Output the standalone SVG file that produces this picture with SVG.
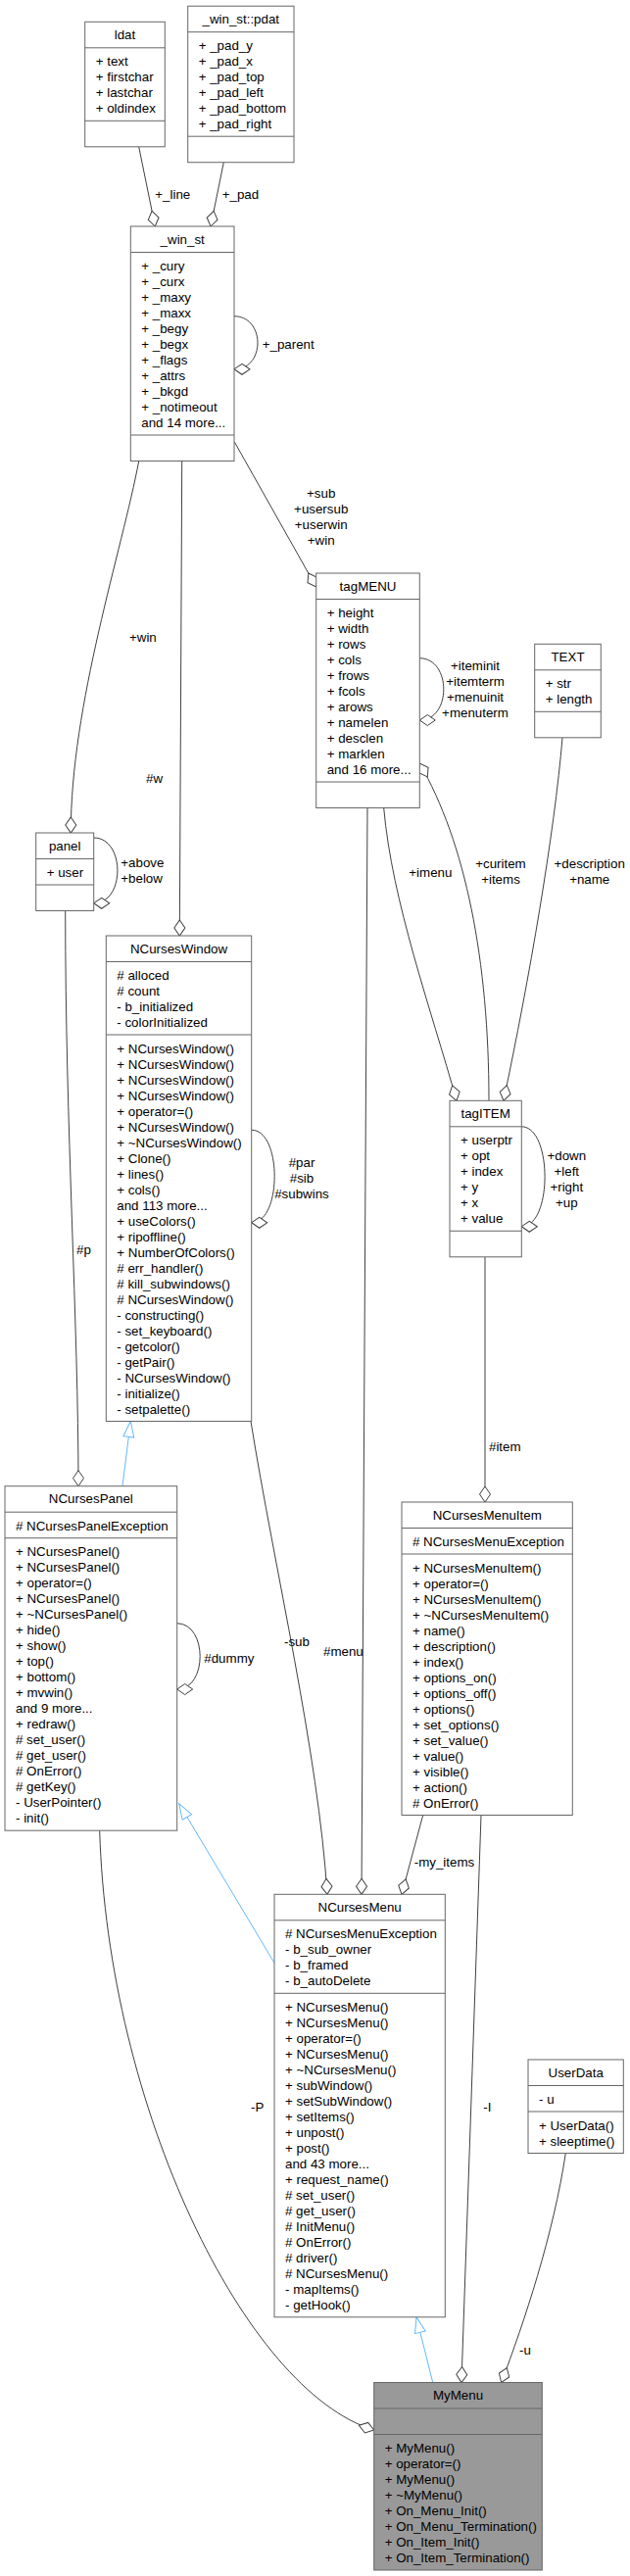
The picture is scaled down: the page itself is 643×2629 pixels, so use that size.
<svg xmlns="http://www.w3.org/2000/svg" width="643" height="2629" viewBox="0 0 643 2629">
<style>
text{font-family:"Liberation Sans",Arial,sans-serif;font-size:13.33px;fill:#000}
.t{text-anchor:middle}
.box{fill:#fff;stroke:#666;stroke-width:1}
.sep{stroke:#666;stroke-width:1}
.hl{fill:#999;stroke:#666;stroke-width:1}
.e{fill:none;stroke:#404040;stroke-width:1}
.i{fill:none;stroke:#63b8ff;stroke-width:1}
.lm{text-anchor:middle}
</style>
<defs>
<marker id="dia" markerUnits="userSpaceOnUse" markerWidth="18" markerHeight="13" refX="17" refY="6.5" orient="auto" overflow="visible"><path d="M1,6.5 L9,1 L17,6.5 L9,12 Z" fill="#fff" stroke="#404040"/></marker>
<marker id="tri" markerUnits="userSpaceOnUse" markerWidth="18" markerHeight="13" refX="17" refY="6.5" orient="auto" overflow="visible"><path d="M1,1 L17,6.5 L1,12 Z" fill="#fff" stroke="#63b8ff"/></marker>
</defs>
<rect width="643" height="2629" fill="#fff"/>

<g id="connectors">
<path class="e" marker-end="url(#dia)" d="M141.7,149.8 L158.3,231"/>
<path class="e" marker-end="url(#dia)" d="M228.3,165.7 L215,231"/>
<path class="e" marker-end="url(#dia)" d="M239.3,451 L322.7,599"/>
<path class="e" marker-end="url(#dia)" d="M141.7,470.5 C125,560 72,720 72.3,850"/>
<path class="e" marker-end="url(#dia)" d="M185.7,470.5 L183.3,955"/>
<path class="e" marker-end="url(#dia)" d="M239,322.7 C271,323 271,377 239,376.7"/>
<path class="e" marker-end="url(#dia)" d="M428.3,671.7 C461,672 461,735 428.3,735"/>
<path class="e" marker-end="url(#dia)" d="M574,752.8 C566,850 540,1000 514,1123.3"/>
<path class="e" marker-end="url(#dia)" d="M391.7,824.5 C400,920 440,1030 466,1123.3"/>
<path class="e" marker-end="url(#dia)" d="M499,1123.3 C499,980 475,860 428.3,779"/>
<path class="e" marker-end="url(#dia)" d="M532.3,1149.8 C564,1150 564,1252 532.3,1251.7"/>
<path class="e" marker-end="url(#dia)" d="M95.7,855 C128,855 128,922 95.7,921.7"/>
<path class="e" marker-end="url(#dia)" d="M66.7,929.5 C66.7,1150 80,1350 80,1516.7"/>
<path class="e" marker-end="url(#dia)" d="M256.7,1153.3 C288,1153 288,1248 256.7,1247.7"/>
<path class="i" marker-end="url(#tri)" d="M125,1516.7 L133.3,1450.5"/>
<path class="e" marker-end="url(#dia)" d="M180.7,1656.7 C212,1657 212,1724 180.7,1724"/>
<path class="e" marker-end="url(#dia)" d="M375,824.5 L369,1933.3"/>
<path class="e" marker-end="url(#dia)" d="M495,1282.8 L495,1533"/>
<path class="e" marker-end="url(#dia)" d="M256,1450.5 C280,1600 325,1790 334,1933.3"/>
<path class="i" marker-end="url(#tri)" d="M280,2003.3 L182.7,1840.7"/>
<path class="e" marker-end="url(#dia)" d="M431.7,1852.5 L410,1933.3"/>
<path class="e" marker-end="url(#dia)" d="M101.7,1868.2 C110,2150 250,2440 381.7,2480"/>
<path class="e" marker-end="url(#dia)" d="M491,1852.5 L471,2431.5"/>
<path class="e" marker-end="url(#dia)" d="M577.3,2197.5 C565,2280 535,2370 511.7,2431.5"/>
<path class="i" marker-end="url(#tri)" d="M441.7,2431.5 L425,2364.8"/>
<text x="158.3" y="203.3">+_line</text>
<text x="226.7" y="203.3">+_pad</text>
<text x="267.7" y="356">+_parent</text>
<text class="lm" x="327.7" y="508.3">+sub</text>
<text class="lm" x="327.7" y="524.3">+usersub</text>
<text class="lm" x="327.7" y="540.3">+userwin</text>
<text class="lm" x="327.7" y="556.3">+win</text>
<text class="lm" x="485" y="684.3">+iteminit</text>
<text class="lm" x="485" y="700.3">+itemterm</text>
<text class="lm" x="485" y="716.3">+menuinit</text>
<text class="lm" x="485" y="732.3">+menuterm</text>
<text x="132" y="655">+win</text>
<text x="149" y="799">#w</text>
<text x="123.3" y="885">+above</text>
<text x="123.3" y="901">+below</text>
<text class="lm" x="308" y="1190.7">#par</text>
<text class="lm" x="308" y="1206.7">#sib</text>
<text class="lm" x="308" y="1222.7">#subwins</text>
<text x="417.3" y="894.7">+imenu</text>
<text class="lm" x="511" y="886">+curitem</text>
<text class="lm" x="511" y="902">+items</text>
<text class="lm" x="601.7" y="886">+description</text>
<text class="lm" x="601.7" y="902">+name</text>
<text class="lm" x="578.3" y="1184">+down</text>
<text class="lm" x="578.3" y="1200">+left</text>
<text class="lm" x="578.3" y="1216">+right</text>
<text class="lm" x="578.3" y="1232">+up</text>
<text x="78" y="1280">#p</text>
<text x="208.3" y="1696.7">#dummy</text>
<text x="330" y="1690">#menu</text>
<text x="499" y="1481">#item</text>
<text x="290" y="1680">-sub</text>
<text x="422.7" y="1905">-my_items</text>
<text x="256" y="2155">-P</text>
<text x="493.3" y="2155">-I</text>
<text x="530" y="2402.7">-u</text>
</g>

<g id="ldat">
<rect class="box" x="86.7" y="22.3" width="81.6" height="127.5"/>
<line class="sep" x1="86.7" y1="48.8" x2="168.3" y2="48.8"/>
<line class="sep" x1="86.7" y1="123.3" x2="168.3" y2="123.3"/>
<text class="t" x="127.5" y="39.8">ldat</text>
<text x="97.7" y="67.3">+ text</text>
<text x="97.7" y="83.3">+ firstchar</text>
<text x="97.7" y="99.3">+ lastchar</text>
<text x="97.7" y="115.3">+ oldindex</text>
</g>

<g id="pdat">
<rect class="box" x="191.7" y="6.2" width="108.3" height="159.5"/>
<line class="sep" x1="191.7" y1="32.7" x2="300" y2="32.7"/>
<line class="sep" x1="191.7" y1="139.2" x2="300" y2="139.2"/>
<text class="t" x="245.8" y="23.7">_win_st::pdat</text>
<text x="202.7" y="51.2">+ _pad_y</text>
<text x="202.7" y="67.2">+ _pad_x</text>
<text x="202.7" y="83.2">+ _pad_top</text>
<text x="202.7" y="99.2">+ _pad_left</text>
<text x="202.7" y="115.2">+ _pad_bottom</text>
<text x="202.7" y="131.2">+ _pad_right</text>
</g>

<g id="win_st">
<rect class="box" x="133.3" y="231" width="105.7" height="239.5"/>
<line class="sep" x1="133.3" y1="257.5" x2="239" y2="257.5"/>
<line class="sep" x1="133.3" y1="444" x2="239" y2="444"/>
<text class="t" x="186.2" y="248.5">_win_st</text>
<text x="144.3" y="276">+ _cury</text>
<text x="144.3" y="292">+ _curx</text>
<text x="144.3" y="308">+ _maxy</text>
<text x="144.3" y="324">+ _maxx</text>
<text x="144.3" y="340">+ _begy</text>
<text x="144.3" y="356">+ _begx</text>
<text x="144.3" y="372">+ _flags</text>
<text x="144.3" y="388">+ _attrs</text>
<text x="144.3" y="404">+ _bkgd</text>
<text x="144.3" y="420">+ _notimeout</text>
<text x="144.3" y="436">and 14 more...</text>
</g>

<g id="tagMENU">
<rect class="box" x="322.7" y="585" width="105.6" height="239.5"/>
<line class="sep" x1="322.7" y1="611.5" x2="428.3" y2="611.5"/>
<line class="sep" x1="322.7" y1="798" x2="428.3" y2="798"/>
<text class="t" x="375.5" y="602.5">tagMENU</text>
<text x="333.7" y="630">+ height</text>
<text x="333.7" y="646">+ width</text>
<text x="333.7" y="662">+ rows</text>
<text x="333.7" y="678">+ cols</text>
<text x="333.7" y="694">+ frows</text>
<text x="333.7" y="710">+ fcols</text>
<text x="333.7" y="726">+ arows</text>
<text x="333.7" y="742">+ namelen</text>
<text x="333.7" y="758">+ desclen</text>
<text x="333.7" y="774">+ marklen</text>
<text x="333.7" y="790">and 16 more...</text>
</g>

<g id="TEXT">
<rect class="box" x="545.7" y="657.3" width="67.6" height="95.5"/>
<line class="sep" x1="545.7" y1="683.8" x2="613.3" y2="683.8"/>
<line class="sep" x1="545.7" y1="726.3" x2="613.3" y2="726.3"/>
<text class="t" x="579.5" y="674.8">TEXT</text>
<text x="556.7" y="702.3">+ str</text>
<text x="556.7" y="718.3">+ length</text>
</g>

<g id="panel">
<rect class="box" x="36.7" y="850" width="59" height="79.5"/>
<line class="sep" x1="36.7" y1="876.5" x2="95.7" y2="876.5"/>
<line class="sep" x1="36.7" y1="903" x2="95.7" y2="903"/>
<text class="t" x="66.2" y="867.5">panel</text>
<text x="47.7" y="895">+ user</text>
</g>

<g id="NCursesWindow">
<rect class="box" x="108.3" y="955" width="148.4" height="495.5"/>
<line class="sep" x1="108.3" y1="981.5" x2="256.7" y2="981.5"/>
<line class="sep" x1="108.3" y1="1056" x2="256.7" y2="1056"/>
<text class="t" x="182.5" y="972.5">NCursesWindow</text>
<text x="119.3" y="1000"># alloced</text>
<text x="119.3" y="1016"># count</text>
<text x="119.3" y="1032">- b_initialized</text>
<text x="119.3" y="1048">- colorInitialized</text>
<text x="119.3" y="1074.5">+ NCursesWindow()</text>
<text x="119.3" y="1090.5">+ NCursesWindow()</text>
<text x="119.3" y="1106.5">+ NCursesWindow()</text>
<text x="119.3" y="1122.5">+ NCursesWindow()</text>
<text x="119.3" y="1138.5">+ operator=()</text>
<text x="119.3" y="1154.5">+ NCursesWindow()</text>
<text x="119.3" y="1170.5">+ ~NCursesWindow()</text>
<text x="119.3" y="1186.5">+ Clone()</text>
<text x="119.3" y="1202.5">+ lines()</text>
<text x="119.3" y="1218.5">+ cols()</text>
<text x="119.3" y="1234.5">and 113 more...</text>
<text x="119.3" y="1250.5">+ useColors()</text>
<text x="119.3" y="1266.5">+ ripoffline()</text>
<text x="119.3" y="1282.5">+ NumberOfColors()</text>
<text x="119.3" y="1298.5"># err_handler()</text>
<text x="119.3" y="1314.5"># kill_subwindows()</text>
<text x="119.3" y="1330.5"># NCursesWindow()</text>
<text x="119.3" y="1346.5">- constructing()</text>
<text x="119.3" y="1362.5">- set_keyboard()</text>
<text x="119.3" y="1378.5">- getcolor()</text>
<text x="119.3" y="1394.5">- getPair()</text>
<text x="119.3" y="1410.5">- NCursesWindow()</text>
<text x="119.3" y="1426.5">- initialize()</text>
<text x="119.3" y="1442.5">- setpalette()</text>
</g>

<g id="tagITEM">
<rect class="box" x="459" y="1123.3" width="73.3" height="159.5"/>
<line class="sep" x1="459" y1="1149.8" x2="532.3" y2="1149.8"/>
<line class="sep" x1="459" y1="1256.3" x2="532.3" y2="1256.3"/>
<text class="t" x="495.7" y="1140.8">tagITEM</text>
<text x="470" y="1168.3">+ userptr</text>
<text x="470" y="1184.3">+ opt</text>
<text x="470" y="1200.3">+ index</text>
<text x="470" y="1216.3">+ y</text>
<text x="470" y="1232.3">+ x</text>
<text x="470" y="1248.3">+ value</text>
</g>

<g id="NCursesPanel">
<rect class="box" x="5" y="1516.7" width="175.7" height="351.5"/>
<line class="sep" x1="5" y1="1543.2" x2="180.7" y2="1543.2"/>
<line class="sep" x1="5" y1="1569.7" x2="180.7" y2="1569.7"/>
<text class="t" x="92.8" y="1534.2">NCursesPanel</text>
<text x="16" y="1561.7"># NCursesPanelException</text>
<text x="16" y="1588.2">+ NCursesPanel()</text>
<text x="16" y="1604.2">+ NCursesPanel()</text>
<text x="16" y="1620.2">+ operator=()</text>
<text x="16" y="1636.2">+ NCursesPanel()</text>
<text x="16" y="1652.2">+ ~NCursesPanel()</text>
<text x="16" y="1668.2">+ hide()</text>
<text x="16" y="1684.2">+ show()</text>
<text x="16" y="1700.2">+ top()</text>
<text x="16" y="1716.2">+ bottom()</text>
<text x="16" y="1732.2">+ mvwin()</text>
<text x="16" y="1748.2">and 9 more...</text>
<text x="16" y="1764.2">+ redraw()</text>
<text x="16" y="1780.2"># set_user()</text>
<text x="16" y="1796.2"># get_user()</text>
<text x="16" y="1812.2"># OnError()</text>
<text x="16" y="1828.2"># getKey()</text>
<text x="16" y="1844.2">- UserPointer()</text>
<text x="16" y="1860.2">- init()</text>
</g>

<g id="NCursesMenuItem">
<rect class="box" x="410" y="1533" width="174.3" height="319.5"/>
<line class="sep" x1="410" y1="1559.5" x2="584.3" y2="1559.5"/>
<line class="sep" x1="410" y1="1586" x2="584.3" y2="1586"/>
<text class="t" x="497.2" y="1550.5">NCursesMenuItem</text>
<text x="421" y="1578"># NCursesMenuException</text>
<text x="421" y="1604.5">+ NCursesMenuItem()</text>
<text x="421" y="1620.5">+ operator=()</text>
<text x="421" y="1636.5">+ NCursesMenuItem()</text>
<text x="421" y="1652.5">+ ~NCursesMenuItem()</text>
<text x="421" y="1668.5">+ name()</text>
<text x="421" y="1684.5">+ description()</text>
<text x="421" y="1700.5">+ index()</text>
<text x="421" y="1716.5">+ options_on()</text>
<text x="421" y="1732.5">+ options_off()</text>
<text x="421" y="1748.5">+ options()</text>
<text x="421" y="1764.5">+ set_options()</text>
<text x="421" y="1780.5">+ set_value()</text>
<text x="421" y="1796.5">+ value()</text>
<text x="421" y="1812.5">+ visible()</text>
<text x="421" y="1828.5">+ action()</text>
<text x="421" y="1844.5"># OnError()</text>
</g>

<g id="NCursesMenu">
<rect class="box" x="280" y="1933.3" width="174.3" height="431.5"/>
<line class="sep" x1="280" y1="1959.8" x2="454.3" y2="1959.8"/>
<line class="sep" x1="280" y1="2034.3" x2="454.3" y2="2034.3"/>
<text class="t" x="367.2" y="1950.8">NCursesMenu</text>
<text x="291" y="1978.3"># NCursesMenuException</text>
<text x="291" y="1994.3">- b_sub_owner</text>
<text x="291" y="2010.3">- b_framed</text>
<text x="291" y="2026.3">- b_autoDelete</text>
<text x="291" y="2052.8">+ NCursesMenu()</text>
<text x="291" y="2068.8">+ NCursesMenu()</text>
<text x="291" y="2084.8">+ operator=()</text>
<text x="291" y="2100.8">+ NCursesMenu()</text>
<text x="291" y="2116.8">+ ~NCursesMenu()</text>
<text x="291" y="2132.8">+ subWindow()</text>
<text x="291" y="2148.8">+ setSubWindow()</text>
<text x="291" y="2164.8">+ setItems()</text>
<text x="291" y="2180.8">+ unpost()</text>
<text x="291" y="2196.8">+ post()</text>
<text x="291" y="2212.8">and 43 more...</text>
<text x="291" y="2228.8">+ request_name()</text>
<text x="291" y="2244.8"># set_user()</text>
<text x="291" y="2260.8"># get_user()</text>
<text x="291" y="2276.8"># InitMenu()</text>
<text x="291" y="2292.8"># OnError()</text>
<text x="291" y="2308.8"># driver()</text>
<text x="291" y="2324.8"># NCursesMenu()</text>
<text x="291" y="2340.8">- mapItems()</text>
<text x="291" y="2356.8">- getHook()</text>
</g>

<g id="UserData">
<rect class="box" x="539" y="2102" width="97.3" height="95.5"/>
<line class="sep" x1="539" y1="2128.5" x2="636.3" y2="2128.5"/>
<line class="sep" x1="539" y1="2155" x2="636.3" y2="2155"/>
<text class="t" x="587.7" y="2119.5">UserData</text>
<text x="550" y="2147">- u</text>
<text x="550" y="2173.5">+ UserData()</text>
<text x="550" y="2189.5">+ sleeptime()</text>
</g>

<g id="MyMenu">
<rect class="hl" x="381.7" y="2431.5" width="171.6" height="191.5"/>
<line class="sep" x1="381.7" y1="2458" x2="553.3" y2="2458"/>
<line class="sep" x1="381.7" y1="2484.5" x2="553.3" y2="2484.5"/>
<text class="t" x="467.5" y="2449">MyMenu</text>
<text x="392.7" y="2503">+ MyMenu()</text>
<text x="392.7" y="2519">+ operator=()</text>
<text x="392.7" y="2535">+ MyMenu()</text>
<text x="392.7" y="2551">+ ~MyMenu()</text>
<text x="392.7" y="2567">+ On_Menu_Init()</text>
<text x="392.7" y="2583">+ On_Menu_Termination()</text>
<text x="392.7" y="2599">+ On_Item_Init()</text>
<text x="392.7" y="2615">+ On_Item_Termination()</text>
</g>
</svg>
